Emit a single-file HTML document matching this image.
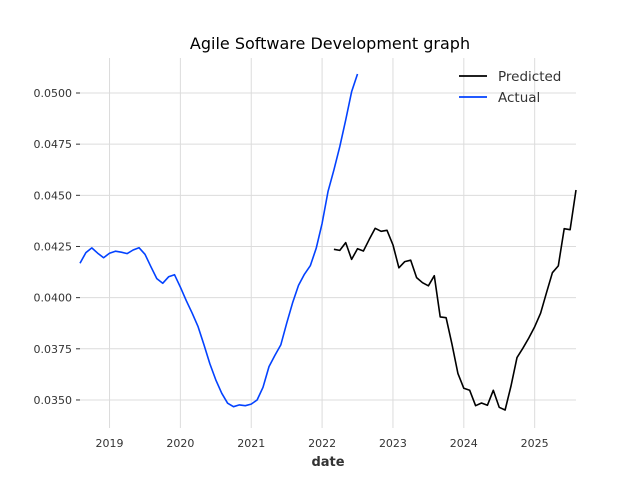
<!DOCTYPE html>
<html><head><meta charset="utf-8"><style>
html,body{margin:0;padding:0;background:#fff;}
svg{display:block;font-family:"DejaVu Sans","Liberation Sans",sans-serif;}
</style></head><body>
<svg id="chart" width="640" height="480">
<text x="330" y="49" text-anchor="middle" font-size="16" fill="#000">Agile Software Development graph</text>
<g id="grid"></g><g id="axes"></g><g id="series"></g>
<text x="328" y="466" text-anchor="middle" font-size="13" font-weight="bold" fill="#333">date</text>
<g>
<line x1="459" y1="76" x2="487" y2="76" stroke="#000" stroke-width="1.8"/>
<text x="498" y="81" font-size="13.5" fill="#333">Predicted</text>
<line x1="459" y1="97" x2="487" y2="97" stroke="#0342ff" stroke-width="1.8"/>
<text x="498" y="102" font-size="13.5" fill="#333">Actual</text>
</g>
</svg>
<script>
const actualStart = 2018 + 7/12;
const actualValues = [0.04168,0.04220,0.04243,0.04217,0.04195,0.04217,0.04227,0.04222,0.04215,0.04233,0.04244,0.04212,0.04151,0.04093,0.04070,0.04102,0.04112,0.04051,0.03985,0.03924,0.03858,0.03769,0.03676,0.03598,0.03533,0.03484,0.03467,0.03476,0.03472,0.03480,0.03500,0.03562,0.03663,0.03718,0.03769,0.03875,0.03975,0.04060,0.04114,0.04156,0.04241,0.04363,0.04518,0.04624,0.04738,0.04868,0.05006,0.05093];
const predStart = 2022 + 2/12;
const predValues = [0.04236,0.04231,0.04269,0.04187,0.04239,0.04228,0.04285,0.04339,0.04324,0.04329,0.04257,0.04146,0.04176,0.04183,0.04098,0.04073,0.04058,0.04107,0.03906,0.03902,0.03772,0.03630,0.03557,0.03547,0.03472,0.03485,0.03474,0.03547,0.03464,0.03451,0.03568,0.03707,0.03753,0.03803,0.03858,0.03924,0.04024,0.04122,0.04155,0.04337,0.04332,0.04526];
const yTicks = [0.035,0.0375,0.04,0.0425,0.045,0.0475,0.05];
const xTicks = [2019,2020,2021,2022,2023,2024,2025];
const NS="http://www.w3.org/2000/svg";
const L=80,R=576,T=58,B=428;
const x0=2018+7/12, x1=2025+7/12, y0=0.03363, y1=0.05171;
function sx(t){return L+(t-x0)/(x1-x0)*(R-L);}
function sy(v){return B-(v-y0)/(y1-y0)*(B-T);}
function mk(tag,attrs,parent){const e=document.createElementNS(NS,tag);for(const k in attrs)e.setAttribute(k,attrs[k]);parent.appendChild(e);return e;}
const grid=document.getElementById('grid'),axes=document.getElementById('axes'),series=document.getElementById('series');
yTicks.forEach(v=>{
  const y=sy(v);
  const g=mk('line',{x1:L,x2:R,y1:y,y2:y,stroke:'#dcdcdc','stroke-width':1},grid);
  
  
  mk('line',{x1:L-4,x2:L,y1:y,y2:y,stroke:'#333','stroke-width':1},axes);
  const t=mk('text',{x:L-8,y:y+4,'text-anchor':'end','font-size':11,fill:'#333'},axes);
  t.textContent=v.toFixed(4);
  
  
});
xTicks.forEach(yr=>{
  const x=sx(yr);
  const g=mk('line',{x1:x,x2:x,y1:T,y2:B,stroke:'#dcdcdc','stroke-width':1},grid);
  
  
  const t=mk('text',{x:x,y:447,'text-anchor':'middle','font-size':11,fill:'#333'},axes);
  t.textContent=String(yr);
  
  
});
function line(vals,start,color,name){
  const pts=vals.map((v,i)=>sx(start+i/12).toFixed(1)+','+sy(v).toFixed(1)).join(' ');
  const p=mk('polyline',{points:pts,fill:'none',stroke:color,'stroke-width':1.6,'stroke-linejoin':'round'},series);
  
  
}
line(actualValues,actualStart,'#0342ff','actual-line');
line(predValues,predStart,'#000','predicted-line');
</script>
</body></html>
